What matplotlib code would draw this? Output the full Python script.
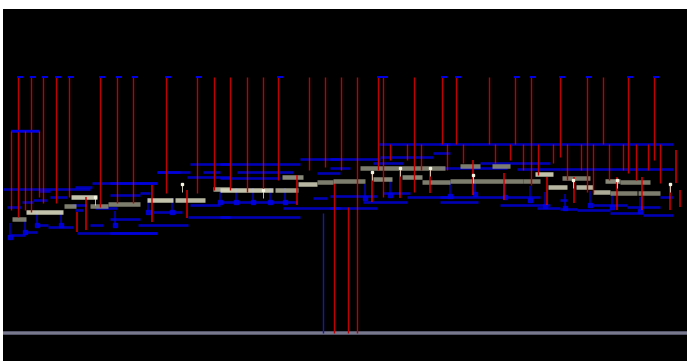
import matplotlib
matplotlib.use("Agg")
import matplotlib.pyplot as plt

# ---- trace data: time (x) and depth (y) values ----
# probes hanging from the top rail: (time, depth reached, has marker)
probe_t = [18, 31, 43, 56, 69, 100, 117, 133, 166, 197, 214, 230, 247, 263, 278,
           309, 325, 341, 357, 378, 383, 414, 442, 456, 489, 515, 531, 560, 587,
           603, 628, 654]
probe_end = [217, 212, 203, 203, 197, 207, 203, 203, 193, 193, 190, 190, 192, 190, 180,
             170, 167, 170, 333, 170, 197, 192, 144, 144, 144, 144, 185, 157, 192,
             144, 173, 160]
probe_mark = [1, 1, 1, 1, 1, 1, 1, 1, 1, 1, 0, 0, 0, 0, 1,
              0, 0, 0, 0, 1, 1, 0, 1, 1, 0, 1, 1, 1, 1,
              0, 1, 1]
rail_depth = 77

# bracket on the left
bracket_t = [11, 25, 39]
bracket_top = 131
bracket_end = [210, 210, 197]

# drops under the long upper channel
drop_t = [390, 407, 421, 447, 463, 495, 510, 523, 538, 553, 567, 581, 593, 609,
          623, 636, 648, 660]
drop_end = [160, 160, 170, 170, 163, 163, 160, 170, 175, 163, 180, 170, 193, 180,
            170, 180, 170, 183]
drop_top = 144

# long leads down to the floor
lead_red_t = [334, 348]
lead_red_top = [180, 207]
lead_blue_t = [323]
lead_blue_top = [213]
floor_depth = 333

# short red links between spans
link_t = [77, 86, 152, 187, 297, 372, 400, 430, 473, 504, 547, 574, 617, 642, 670, 676, 680]
link_top = [212, 197, 185, 190, 175, 173, 168, 168, 160, 173, 177, 177, 177, 177, 183, 150, 190]
link_end = [232, 230, 222, 218, 205, 202, 198, 193, 195, 200, 205, 203, 210, 210, 210, 183, 207]

# channel segments: start, stop, depth
chan_start = [3, 92, 157, 11, 7, 10, 25, 37, 48, 22, 33, 39, 50, 75, 72, 75, 77, 90, 95,
              110, 157, 190, 203, 110, 140, 153, 110, 138, 110, 188, 187, 190,
              220, 300, 237, 220, 220, 220, 283, 313, 317,
              378, 330, 380, 433, 330, 330, 363, 330, 407, 383, 373,
              440, 480, 440, 440, 440, 477, 500, 537, 517,
              560, 560, 560, 577, 610, 643, 593, 627, 660]
chan_stop = [90, 157, 180, 39, 21, 25, 37, 48, 73, 33, 47, 50, 67, 92, 87, 83, 157, 103, 117,
             157, 190, 230, 220, 140, 150, 182, 140, 188, 157, 230, 230, 220,
             300, 340, 293, 280, 297, 300, 340, 327, 340,
             450, 380, 433, 450, 350, 377, 407, 377, 450, 410, 403,
             673, 550, 507, 477, 478, 540, 550, 560, 560,
             567, 577, 673, 610, 643, 673, 627, 660, 673]
chan_depth = [189, 183, 172, 131, 207, 235, 232, 225, 227, 202, 200, 191, 197, 187, 205, 210, 233, 225, 208,
              183, 172, 164, 172, 195, 193, 212, 219, 225, 233, 217, 177, 205,
              164, 159, 172, 178, 202, 217, 208, 198, 173,
              144, 159, 157, 153, 168, 196, 202, 208, 197, 193, 163,
              144, 163, 168, 197, 202, 197, 205, 208, 169,
              200, 209, 169, 210, 213, 215, 205, 207, 197]

# nodes on the channels
node_t = [10, 25, 37, 61, 115, 148, 172, 220, 236, 253, 270, 285, 365, 390, 450, 475,
          505, 530, 545, 565, 590, 612, 640]
node_d = [237, 232, 225, 225, 225, 212, 212, 202, 202, 202, 202, 202, 198, 195, 196, 194,
          197, 200, 206, 208, 205, 207, 211]

# busy spans: start, stop, depth, brightness
span_start = [12, 26, 64, 71, 90, 108, 147, 175, 213, 220, 275, 282, 298, 317, 333, 360, 373,
              402, 422, 450, 460, 492, 523, 535, 548, 562, 576, 593, 605, 620, 610, 638]
span_stop = [26, 63, 76, 97, 108, 140, 173, 205, 230, 273, 298, 303, 317, 333, 365, 445, 392,
             422, 450, 523, 480, 510, 540, 553, 567, 590, 593, 610, 620, 650, 637, 660]
span_depth = [219, 212, 206, 197, 206, 204, 200, 200, 189, 190, 190, 177, 184, 182, 181, 168, 179,
              177, 182, 181, 166, 166, 181, 174, 187, 178, 187, 192, 181, 182, 193, 193]
span_bright = [0.55, 0.85, 0.55, 0.85, 0.55, 0.55, 0.85, 0.8, 0.7, 0.85, 0.7, 0.6, 0.8, 0.55, 0.55,
               0.55, 0.6, 0.6, 0.55, 0.55, 0.55, 0.55, 0.55, 0.85, 0.8, 0.55, 0.8, 0.75, 0.6,
               0.55, 0.55, 0.55]

# hot spots
hot_t = [95, 182, 263, 372, 400, 430, 473, 573, 617, 670]
hot_d = [197, 184, 190, 172, 168, 168, 175, 180, 180, 184]

RED = "#c00000"
BLUE = "#0000e6"
PX = 0.72  # one pixel in points at 100 dpi
RED_W = 1.4 * PX

fig = plt.figure(figsize=(6.87, 3.61), dpi=100, facecolor="white")
ax = fig.add_axes([3 / 687, 0, 684 / 687, 352 / 361])
ax.set_facecolor("black")
ax.set_xlim(3, 687)
ax.set_ylim(361, 9)
ax.axis("off")
ax.add_patch(plt.Rectangle((3, 9), 684, 352, color="black", zorder=0))

# floor line
ax.hlines(floor_depth, 3, 687, colors="#55556a", linewidth=4 * PX, zorder=1)
ax.hlines(floor_depth, 3, 687, colors="#85859a", linewidth=1.5 * PX, zorder=1)

# channels
ax.hlines(chan_depth, chan_start, chan_stop, colors=BLUE, linewidth=2.6 * PX, alpha=0.8, zorder=2)
# node drops and markers
for t, d in zip(node_t, node_d):
    ax.vlines(t, d - 14, d, colors=BLUE, linewidth=1.5 * PX, alpha=0.8, zorder=2)
ax.plot(node_t, node_d, "s", color=BLUE, markersize=3, alpha=0.85, zorder=2)

# leads to the floor
ax.vlines(lead_red_t, lead_red_top, floor_depth, colors=RED, linewidth=RED_W, zorder=3)
ax.vlines(lead_blue_t, lead_blue_top, floor_depth, colors="#1818b0", linewidth=RED_W, zorder=3)

# spans
for s, e, d, b in zip(span_start, span_stop, span_depth, span_bright):
    c = (b, b, b * 0.88)
    ax.hlines(d, s, e, colors=[c], linewidth=4.5 * PX, alpha=0.9, zorder=4)

# probes from the top rail
ax.vlines(probe_t, rail_depth, probe_end, colors=RED, linewidth=RED_W, zorder=5)
for t, m in zip(probe_t, probe_mark):
    if m:
        ax.hlines(rail_depth, t - 1, t + 5, colors=BLUE, linewidth=2 * PX, zorder=6)

# left bracket
ax.hlines(bracket_top, bracket_t[0], bracket_t[-1], colors=BLUE, linewidth=2.4 * PX, zorder=5)
ax.vlines(bracket_t, bracket_top, bracket_end, colors=RED, linewidth=RED_W, zorder=5)

# drops under the upper channel
ax.vlines(drop_t, drop_top, drop_end, colors=RED, linewidth=RED_W, zorder=5)

# links
ax.vlines(link_t, link_top, link_end, colors="#dd0000", linewidth=1.5 * PX, zorder=5)

# hot spots
for t, d in zip(hot_t, hot_d):
    ax.vlines(t, d, d + 8, colors="#e8e8d0", linewidth=1.0 * PX, alpha=0.8, zorder=6)
ax.plot(hot_t, hot_d, "s", color="#f4f4e0", markersize=2.0, zorder=7)

fig.savefig("out.png", dpi=100, facecolor="white")
